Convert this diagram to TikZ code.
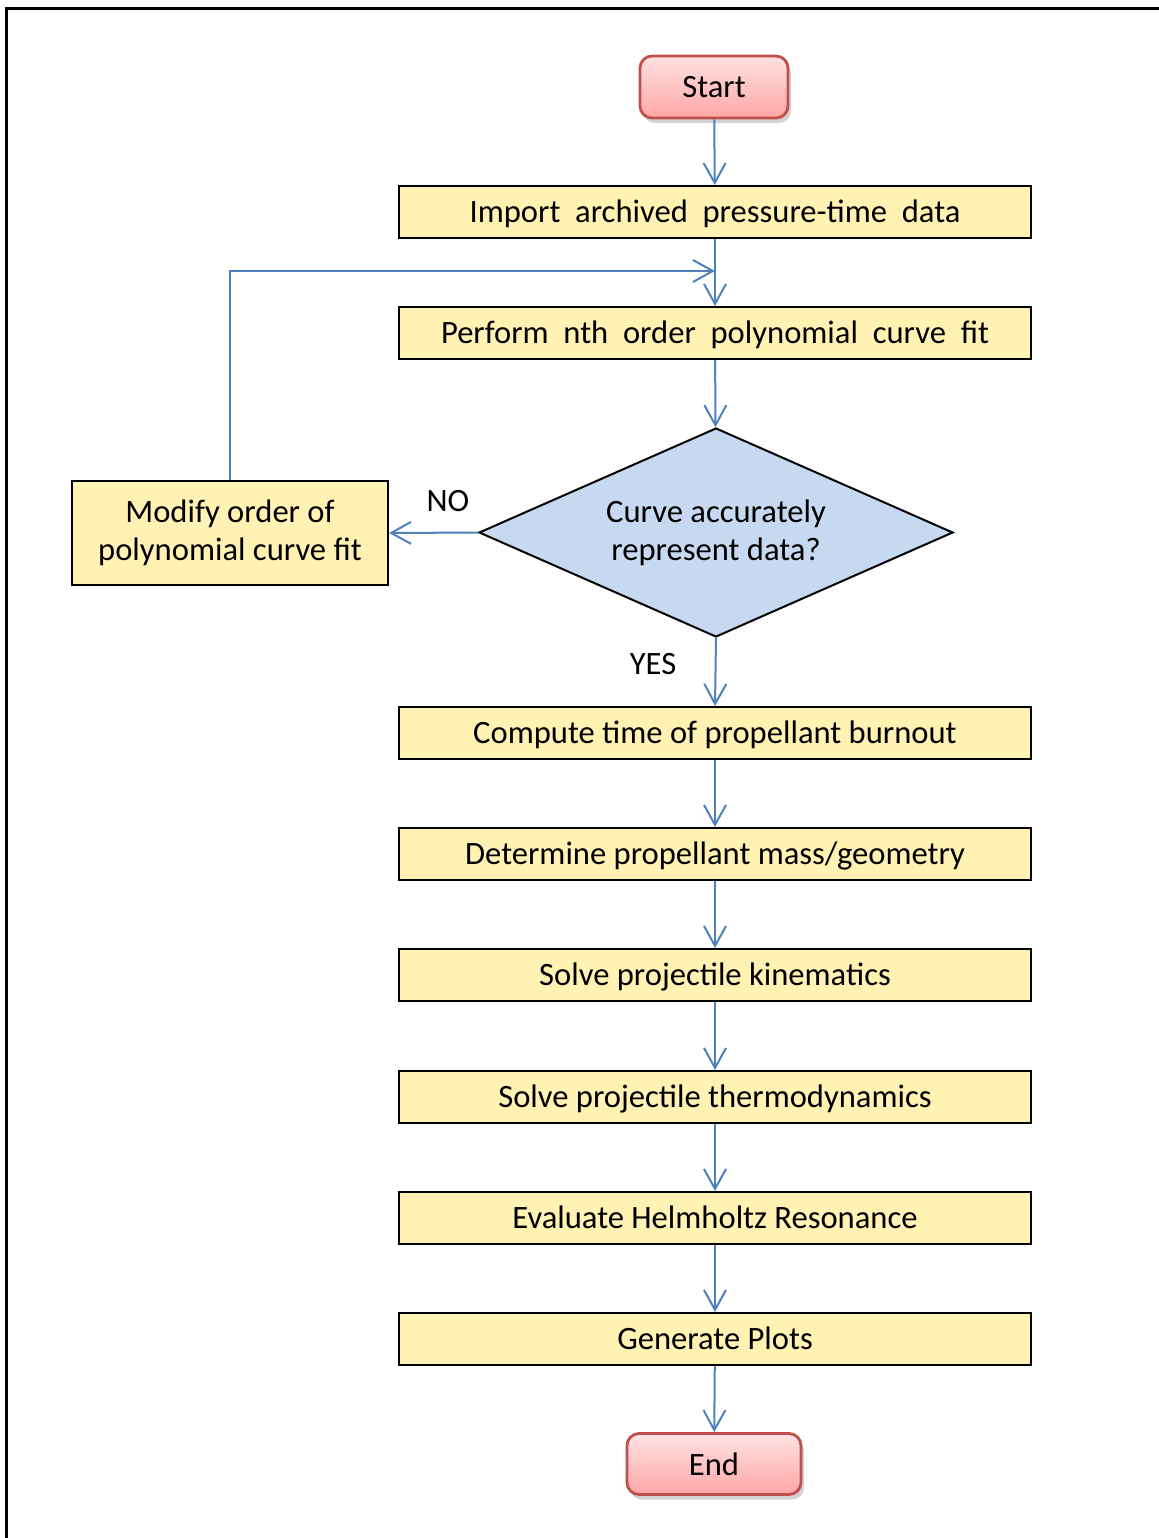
\documentclass[tikz,border=0pt]{standalone}
\usepackage{fontspec}
\setmainfont{Carlito}
\usetikzlibrary{arrows.meta,shapes.geometric,shadows}

\definecolor{flowblue}{HTML}{4F81BD}
\definecolor{stepfill}{HTML}{FFF2B3}
\definecolor{decfill}{HTML}{C6D9F1}
\definecolor{termborder}{HTML}{C0504D}
\definecolor{termtop}{HTML}{FFE2E2}
\definecolor{termbottom}{HTML}{FFA6A6}

\newcommand\flowfont{\fontsize{16.3}{19.5}\selectfont}

\tikzset{
  stepbox/.style={draw=black, line width=1pt, fill=stepfill,
    minimum width=316pt, minimum height=26pt, inner sep=0pt,
    text depth=1pt, font=\flowfont},
  termbox/.style={draw=termborder, line width=1.4pt, rounded corners=6pt,
    top color=termtop, bottom color=termbottom,
    drop shadow={opacity=0.35, shadow xshift=1.5pt, shadow yshift=-2.5pt},
    minimum height=31pt, inner sep=0pt, font=\flowfont},
  decbox/.style={diamond, draw=black, line width=1pt, fill=decfill,
    shape aspect=2.27, inner sep=0pt,
    minimum width=237pt, minimum height=104.5pt, align=center,
    font=\flowfont},
  sidebox/.style={draw=black, line width=1pt, fill=stepfill,
    minimum width=158pt, minimum height=52pt, inner sep=0pt, align=center,
    font=\fontsize{16.3}{20}\selectfont},
  lbl/.style={font=\flowfont, inner sep=0pt},
  arr/.style={draw=flowblue, line width=1pt,
    -{Straight Barb[length=10pt, width=11pt, line width=1pt]}},
}

\begin{document}
\begin{tikzpicture}[x=0.5pt, y=-0.5pt]
  \useasboundingbox (0,0) rectangle (1159,1538);

  % frame
  \draw[line width=1.5pt] (6,1538) -- (6,8) -- (1159,8);

  % terminals
  \node[termbox, minimum width=74pt] (start) at (714,87) {Start};
  \node[termbox, minimum width=87pt, minimum height=30.5pt] (stop) at (714,1464) {End};

  % process steps
  \node[stepbox] (import)  at (715,212)  {Import\ \ archived\ \ pressure-time\ \ data};
  \node[stepbox] (fit)     at (715,333)  {Perform\ \ nth\ \ order\ \ polynomial\ \ curve\ \ fit};
  \node[decbox]  (check)   at (716,532.5) {\raisebox{-3pt}{\shortstack{Curve accurately\\[2pt]represent data?}}};
  \node[sidebox] (modify)  at (230,533)  {\raisebox{-3pt}{\shortstack{Modify order of\\[2pt]polynomial curve fit}}};
  \node[stepbox] (burnout) at (715,733)  {Compute time of propellant burnout};
  \node[stepbox] (mass)    at (715,854)  {Determine propellant mass/geometry};
  \node[stepbox] (kin)     at (715,975)  {Solve projectile kinematics};
  \node[stepbox] (thermo)  at (715,1097) {Solve projectile thermodynamics};
  \node[stepbox] (helm)    at (715,1218) {Evaluate Helmholtz Resonance};
  \node[stepbox] (plots)   at (715,1339) {Generate Plots};

  % branch labels
  \node[lbl] (no)  at (448,501) {NO};
  \node[lbl] (yes) at (653,664) {YES};

  % loop junction above the curve-fit step
  \coordinate (join) at (715,271);

  % connectors
  \draw[arr] (start) -- (import);
  \draw[arr] (import) -- (fit);
  \draw[arr] (fit) -- (check);
  \draw[arr] (check.west) -- (modify.east);
  \draw[arr] (modify.north) |- (join);
  \draw[arr] (check.south) -- (burnout.north);
  \draw[arr] (burnout) -- (mass);
  \draw[arr] (mass) -- (kin);
  \draw[arr] (kin) -- (thermo);
  \draw[arr] (thermo) -- (helm);
  \draw[arr] (helm) -- (plots);
  \draw[arr] (plots) -- (stop);
\end{tikzpicture}
\end{document}
